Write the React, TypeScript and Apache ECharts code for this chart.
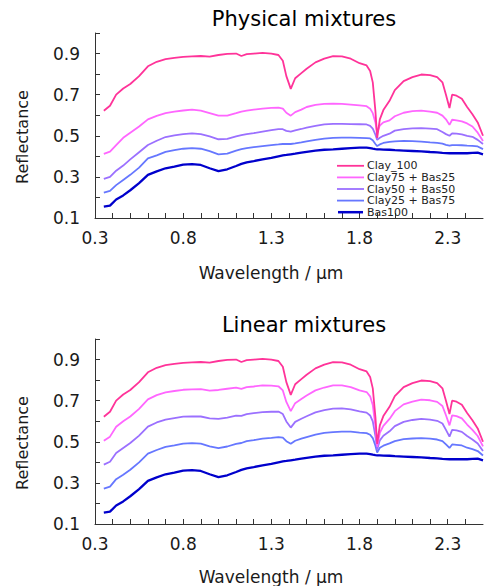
import React, { useEffect, useRef } from 'react';
import * as echarts from 'echarts';

const wavelength = [
  0.35, 0.385, 0.42, 0.46, 0.5, 0.55, 0.6, 0.65, 0.7, 0.75,
  0.8, 0.85, 0.9, 0.95, 1.0, 1.05, 1.1, 1.13, 1.16, 1.2,
  1.25, 1.3, 1.34, 1.365, 1.385, 1.41, 1.435, 1.47, 1.5, 1.55,
  1.6, 1.65, 1.7, 1.75, 1.8, 1.84, 1.86, 1.875, 1.89, 1.9,
  1.915, 1.935, 1.97, 2.0, 2.05, 2.1, 2.15, 2.2, 2.24, 2.27,
  2.29, 2.31, 2.325, 2.35, 2.38, 2.41, 2.44, 2.47, 2.5,
];

const seriesNames = ['Clay_100', 'Clay75 + Bas25', 'Clay50 + Bas50', 'Clay25 + Bas75', 'Bas100'];
const seriesColors = ['#ff3399', '#ff66ff', '#9b70ff', '#6677ff', '#0000cc'];

const clay100 = [
  0.622, 0.646, 0.70, 0.73, 0.752, 0.79, 0.838, 0.86, 0.873, 0.879,
  0.884, 0.886, 0.888, 0.885, 0.893, 0.898, 0.9, 0.888, 0.897, 0.9,
  0.903, 0.9, 0.893, 0.865, 0.79, 0.728, 0.78, 0.805, 0.826, 0.857,
  0.875, 0.887, 0.886, 0.875, 0.853, 0.842, 0.815, 0.76, 0.62, 0.49,
  0.58, 0.625, 0.67, 0.722, 0.766, 0.785, 0.798, 0.795, 0.785, 0.76,
  0.70, 0.635, 0.70, 0.695, 0.68, 0.64, 0.605, 0.565, 0.50,
];

const bas100 = [
  0.155, 0.16, 0.19, 0.21, 0.235, 0.27, 0.31, 0.327, 0.342, 0.35,
  0.36, 0.362, 0.358, 0.342, 0.328, 0.337, 0.353, 0.363, 0.371, 0.377,
  0.385, 0.392, 0.4, 0.405, 0.407, 0.41, 0.413, 0.418, 0.422, 0.428,
  0.432, 0.434, 0.437, 0.44, 0.442, 0.442, 0.44, 0.437, 0.435, 0.434,
  0.434, 0.433, 0.432, 0.43, 0.428, 0.426, 0.424, 0.421, 0.419, 0.417,
  0.416, 0.415, 0.416, 0.415, 0.416, 0.415, 0.417, 0.418, 0.41,
];

// Physical mixtures (top panel)
const phys75 = [
  0.412, 0.423, 0.455, 0.49, 0.515, 0.545, 0.58, 0.597, 0.61, 0.617,
  0.623, 0.627, 0.622, 0.61, 0.598, 0.598, 0.61, 0.618, 0.622, 0.627,
  0.632, 0.636, 0.637, 0.632, 0.612, 0.598, 0.615, 0.627, 0.64, 0.65,
  0.655, 0.656, 0.655, 0.652, 0.648, 0.644, 0.632, 0.61, 0.565, 0.515,
  0.55, 0.565, 0.575, 0.595, 0.612, 0.62, 0.622, 0.618, 0.612, 0.598,
  0.58, 0.553, 0.578, 0.575, 0.57, 0.56, 0.545, 0.515, 0.475,
];

const phys50 = [
  0.29, 0.30, 0.33, 0.355, 0.385, 0.42, 0.455, 0.476, 0.494, 0.502,
  0.508, 0.512, 0.508, 0.497, 0.483, 0.485, 0.497, 0.503, 0.508, 0.513,
  0.52, 0.527, 0.532, 0.532, 0.524, 0.52, 0.526, 0.533, 0.54, 0.548,
  0.555, 0.558, 0.558, 0.557, 0.556, 0.555, 0.548, 0.535, 0.505, 0.48,
  0.49, 0.5, 0.51, 0.525, 0.532, 0.536, 0.537, 0.535, 0.532, 0.518,
  0.508, 0.5, 0.512, 0.51, 0.507, 0.5, 0.495, 0.48, 0.46,
];

const phys25 = [
  0.223, 0.232, 0.26, 0.285, 0.31, 0.345, 0.39, 0.405, 0.422, 0.43,
  0.437, 0.44, 0.437, 0.425, 0.41, 0.413, 0.428, 0.435, 0.44, 0.445,
  0.45, 0.455, 0.458, 0.46, 0.46, 0.46, 0.463, 0.468, 0.473, 0.48,
  0.486, 0.49, 0.491, 0.491, 0.49, 0.489, 0.487, 0.478, 0.46, 0.45,
  0.458, 0.465, 0.47, 0.473, 0.475, 0.474, 0.472, 0.468, 0.465, 0.462,
  0.456, 0.452, 0.455, 0.455, 0.454, 0.452, 0.451, 0.448, 0.435,
];

// Linear mixtures (bottom panel)
const lin75 = [
  0.505, 0.525, 0.573, 0.60, 0.623, 0.66, 0.706, 0.727, 0.740, 0.747,
  0.753, 0.755, 0.756, 0.749, 0.752, 0.758, 0.763, 0.757, 0.766, 0.769,
  0.774, 0.773, 0.770, 0.750, 0.694, 0.649, 0.688, 0.708, 0.725, 0.750,
  0.764, 0.774, 0.774, 0.766, 0.750, 0.742, 0.721, 0.679, 0.574, 0.476,
  0.544, 0.577, 0.611, 0.649, 0.682, 0.695, 0.705, 0.702, 0.694, 0.674,
  0.629, 0.58, 0.629, 0.625, 0.614, 0.584, 0.558, 0.528, 0.478,
];

const lin50 = [
  0.389, 0.403, 0.445, 0.47, 0.494, 0.53, 0.574, 0.594, 0.608, 0.615,
  0.622, 0.624, 0.623, 0.614, 0.611, 0.618, 0.627, 0.626, 0.634, 0.639,
  0.644, 0.646, 0.647, 0.635, 0.599, 0.569, 0.597, 0.612, 0.624, 0.643,
  0.654, 0.661, 0.662, 0.658, 0.648, 0.642, 0.628, 0.599, 0.528, 0.462,
  0.507, 0.529, 0.551, 0.576, 0.597, 0.606, 0.611, 0.608, 0.602, 0.589,
  0.558, 0.525, 0.558, 0.555, 0.548, 0.528, 0.511, 0.492, 0.455,
];

const lin25 = [
  0.272, 0.282, 0.318, 0.34, 0.364, 0.40, 0.442, 0.46, 0.475, 0.482,
  0.491, 0.493, 0.491, 0.478, 0.469, 0.477, 0.49, 0.494, 0.503, 0.508,
  0.515, 0.519, 0.523, 0.52, 0.503, 0.49, 0.505, 0.515, 0.523, 0.535,
  0.543, 0.547, 0.549, 0.549, 0.545, 0.542, 0.534, 0.518, 0.481, 0.448,
  0.471, 0.481, 0.492, 0.503, 0.513, 0.516, 0.518, 0.515, 0.511, 0.503,
  0.487, 0.47, 0.487, 0.485, 0.482, 0.471, 0.464, 0.455, 0.433,
];

const xTickLabels = ['0.3', '0.8', '1.3', '1.8', '2.3'];
const yTickLabels = ['0.1', '0.3', '0.5', '0.7', '0.9'];

const FONT = 'DejaVu Sans';

function pairs(vals: number[]) {
  return wavelength.map((w, i) => [w, vals[i]]);
}

export default function App() {
  const ref = useRef<HTMLDivElement>(null);

  useEffect(() => {
    document.body.style.margin = '0';
    if (!ref.current) return;
    const chart = echarts.init(ref.current, null, { renderer: 'svg' });

    const makeX = (gridIndex: number) => ({
      type: 'value',
      gridIndex,
      min: 0.3,
      max: 2.5,
      interval: 0.1,
      axisLine: { show: true, lineStyle: { color: '#333', width: 1 } },
      axisTick: { show: true, inside: true, length: 5, lineStyle: { color: '#333' } },
      splitLine: { show: false },
      axisLabel: {
        margin: 11,
        fontSize: 17,
        fontFamily: FONT,
        color: '#1a1a1a',
        showMaxLabel: false,
        formatter: (v: number) => {
          const s = v.toFixed(1);
          return xTickLabels.includes(s) ? s : '';
        },
      },
    });

    const makeY = (gridIndex: number) => ({
      type: 'value',
      gridIndex,
      min: 0.1,
      max: 1.0,
      interval: 0.1,
      axisLine: { show: true, lineStyle: { color: '#333', width: 1 } },
      axisTick: { show: true, inside: true, length: 5, lineStyle: { color: '#333' } },
      splitLine: { show: false },
      axisLabel: {
        margin: 15,
        fontSize: 17,
        fontFamily: FONT,
        color: '#1a1a1a',
        formatter: (v: number) => {
          const s = v.toFixed(1);
          return yTickLabels.includes(s) ? s : '';
        },
      },
    });

    const topData = [clay100, phys75, phys50, phys25, bas100];
    const botData = [clay100, lin75, lin50, lin25, bas100];

    const series: any[] = [];
    [topData, botData].forEach((set, g) => {
      set.forEach((vals, i) => {
        series.push({
          type: 'line',
          name: seriesNames[i],
          xAxisIndex: g,
          yAxisIndex: g,
          data: pairs(vals),
          symbol: 'none',
          smooth: false,
          color: seriesColors[i],
          lineStyle: { color: seriesColors[i], width: i === 4 ? 2.3 : 1.8 },
          z: 10 - i,
        });
      });
    });

    const legendData = seriesNames.map((n, i) => ({
      name: n,
      icon: i === 4 ? 'path://M0,0 L30,0 L30,3 L0,3 Z' : 'path://M0,0 L30,0 L30,2 L0,2 Z',
      itemStyle: { color: seriesColors[i], borderWidth: 0 },
    }));

    const option: any = {
      animation: false,
      textStyle: { fontFamily: FONT },
      title: [
        {
          text: 'Physical mixtures',
          left: 304,
          top: 8,
          textAlign: 'center',
          padding: 0,
          textStyle: { fontSize: 21, fontWeight: 'normal', color: '#000', fontFamily: FONT },
        },
        {
          text: 'Linear mixtures',
          left: 304,
          top: 314,
          textAlign: 'center',
          padding: 0,
          textStyle: { fontSize: 21, fontWeight: 'normal', color: '#000', fontFamily: FONT },
        },
      ],
      grid: [
        { left: 95, top: 33, width: 388, height: 185 },
        { left: 95, top: 339, width: 388, height: 185 },
      ],
      xAxis: [makeX(0), makeX(1)],
      yAxis: [makeY(0), makeY(1)],
      legend: {
        data: legendData,
        orient: 'vertical',
        left: 337,
        top: 160,
        padding: 0,
        itemGap: 0,
        itemWidth: 27,
        itemHeight: 2.5,
        textStyle: { fontSize: 11, lineHeight: 11.6, fontFamily: FONT, color: '#222', padding: [0, 0, 0, -2] },
        selectedMode: false,
      },
      graphic: [
        {
          type: 'text',
          x: 271,
          y: 273,
          style: { text: 'Wavelength / µm', fontSize: 17, fontFamily: FONT, fill: '#1a1a1a', align: 'center', verticalAlign: 'middle' },
        },
        {
          type: 'text',
          x: 271,
          y: 577,
          style: { text: 'Wavelength / µm', fontSize: 17, fontFamily: FONT, fill: '#1a1a1a', align: 'center', verticalAlign: 'middle' },
        },
        {
          type: 'text',
          x: 22,
          y: 137,
          rotation: Math.PI / 2,
          style: { text: 'Reflectance', fontSize: 16, fontFamily: FONT, fill: '#1a1a1a', align: 'center', verticalAlign: 'middle' },
        },
        {
          type: 'text',
          x: 22,
          y: 443,
          rotation: Math.PI / 2,
          style: { text: 'Reflectance', fontSize: 16, fontFamily: FONT, fill: '#1a1a1a', align: 'center', verticalAlign: 'middle' },
        },
      ],
      series,
    };

    chart.setOption(option);
    return () => chart.dispose();
  }, []);

  return <div ref={ref} style={{ width: 484, height: 586 }} />;
}
